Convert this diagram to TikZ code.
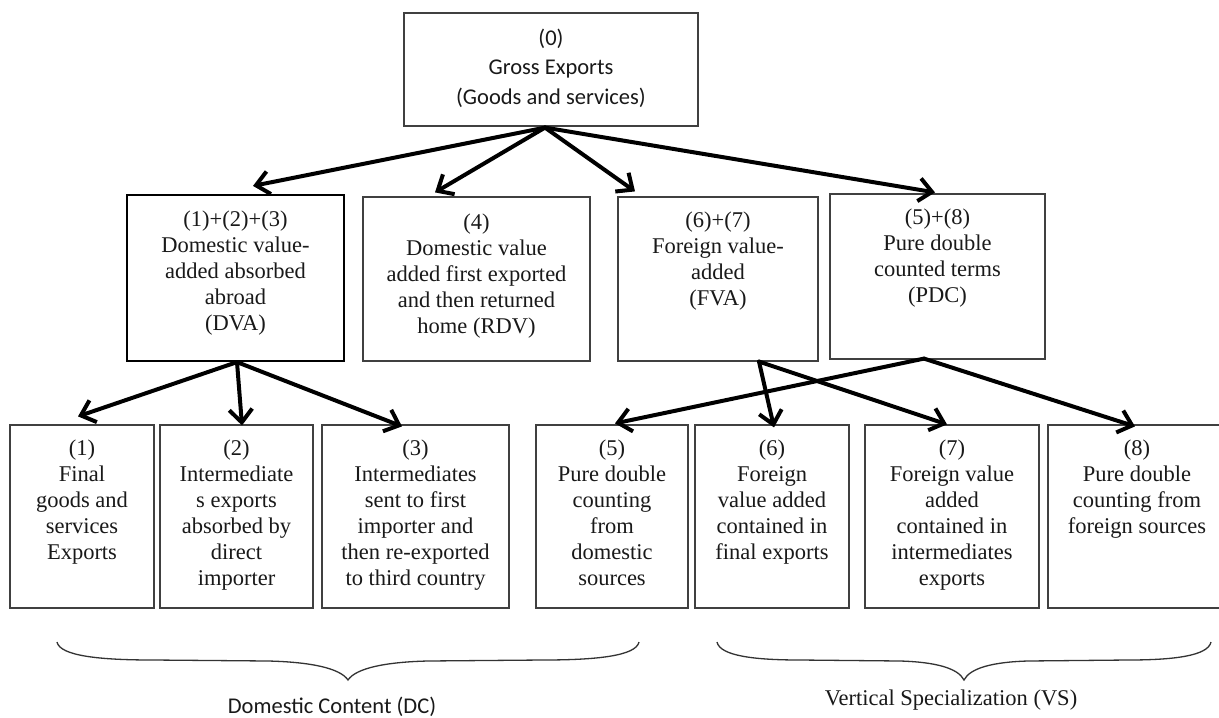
\documentclass[tikz,border=0pt]{standalone}
\usepackage{fontspec}
\setmainfont{Liberation Serif}
\newfontfamily\calib{Carlito}
\usetikzlibrary{arrows.meta,calc}
\begin{document}
\begin{tikzpicture}[x=1pt,y=-1pt,
  box/.style={draw=black!75, line width=1.2pt, inner sep=0pt, rectangle},
  boldbox/.style={box, draw=black, line width=2.2pt},
  txt/.style={align=center, inner sep=0pt, anchor=north, text=black!90,
    font=\fontsize{22.5}{26}\selectfont},
  stxt/.style={align=center, inner sep=0pt, anchor=north, text=black!90,
    font=\calib\fontsize{22.5}{29.5}\selectfont},
  arr/.style={line width=4pt, line cap=round, -{Straight Barb[length=13pt,width=23pt]}},
  bracepath/.style={draw=black!80, line width=1.3pt},
]
\path[fill=white] (0,0) rectangle (1219,718);
\useasboundingbox (0,0) rectangle (1219,718);

% top
\node[box, minimum width=294pt, minimum height=113pt] (top) at (551,69.5) {};
\node[stxt] (toptext) at ($(top.north)+(0,16)$) {(0)\\Gross Exports\\(Goods and services)};

% middle row
\node[boldbox, minimum width=217pt, minimum height=166pt] (dva) at (235.5,278) {};
\node[box, minimum width=227pt, minimum height=164pt] (rdv) at (476.5,279) {};
\node[box, minimum width=200pt, minimum height=164pt] (fva) at (718,279) {};
\node[box, minimum width=215pt, minimum height=165pt] (pdc) at (937.5,276.5) {};

\node[txt] (dvatext) at ($(dva.north)+(0,17)$) {(1)+(2)+(3)\\Domestic value-\\added absorbed\\abroad\\(DVA)};
\node[txt] (rdvtext) at ($(rdv.north)+(0,17)$) {(4)\\Domestic value\\added first exported\\and then returned\\home (RDV)};
\node[txt] (fvatext) at ($(fva.north)+(0,15)$) {(6)+(7)\\Foreign value-\\added\\(FVA)};
\node[txt] (pdctext) at ($(pdc.north)+(0,15)$) {(5)+(8)\\Pure double\\counted terms\\(PDC)};

% bottom row
\node[box, minimum width=144pt, minimum height=183pt] (b1) at (82,516.5) {};
\node[box, minimum width=153pt, minimum height=183pt] (b2) at (236.5,516.5) {};
\node[box, minimum width=187pt, minimum height=183pt] (b3) at (415.5,516.5) {};
\node[box, minimum width=152pt, minimum height=183pt] (b5) at (612,516.5) {};
\node[box, minimum width=154pt, minimum height=183pt] (b6) at (772,516.5) {};
\node[box, minimum width=174pt, minimum height=183pt] (b7) at (952,516.5) {};
\node[box, minimum width=178pt, minimum height=183pt] (b8) at (1137,516.5) {};

\node[txt] (b1text) at ($(b1.north)+(0,15.5)$) {(1)\\Final\\goods and\\services\\Exports};
\node[txt] (b2text) at ($(b2.north)+(0,15.5)$) {(2)\\Intermediate\\s exports\\absorbed by\\direct\\importer};
\node[txt] (b3text) at ($(b3.north)+(0,15.5)$) {(3)\\Intermediates\\sent to first\\importer and\\then re-exported\\to third country};
\node[txt] (b5text) at ($(b5.north)+(0,15.5)$) {(5)\\Pure double\\counting\\from\\domestic\\sources};
\node[txt] (b6text) at ($(b6.north)+(0,15.5)$) {(6)\\Foreign\\value added\\contained in\\final exports};
\node[txt] (b7text) at ($(b7.north)+(0,15.5)$) {(7)\\Foreign value\\added\\contained in\\intermediates\\exports};
\node[txt] (b8text) at ($(b8.north)+(0,15.5)$) {(8)\\Pure double\\counting from\\foreign sources};

% connector ends
\coordinate (o0) at ($(top.south)+(-6,1)$);
\coordinate (odva) at ($(dva.south)+(1.5,0)$);
\coordinate (ofva) at ($(fva.south)+(41,0)$);
\coordinate (opdc) at ($(pdc.south)+(-13.5,-1)$);

\coordinate (tdva) at ($(dva.north)+(17.5,-8)$);
\coordinate (trdv) at ($(rdv.north)+(-41.5,-4)$);
\coordinate (tfva) at ($(fva.north)+(-83,-5)$);
\coordinate (tpdc) at ($(pdc.north)+(-2.5,-1)$);
\coordinate (tb1) at ($(b1.north)+(-4,-8)$);
\coordinate (tb2) at ($(b2.north)+(5.5,1)$);
\coordinate (tb3) at ($(b3.north)+(-13.5,2)$);
\coordinate (tb5) at ($(b5.north)+(3,-1)$);
\coordinate (tb6) at ($(b6.north)+(2,3)$);
\coordinate (tb7) at ($(b7.north)+(-5,0)$);
\coordinate (tb8) at ($(b8.north)+(-2,2)$);

\draw[arr] (o0) -- (tdva);
\draw[arr] (o0) -- (trdv);
\draw[arr] (o0) -- (tfva);
\draw[arr] (o0) -- (tpdc);
\draw[arr] (odva) -- (tb1);
\draw[arr] (odva) -- (tb2);
\draw[arr] (odva) -- (tb3);
\draw[arr] (ofva) -- (tb6);
\draw[arr] (ofva) -- (tb7);
\draw[arr] (opdc) -- (tb5);
\draw[arr] (opdc) -- (tb8);

% braces
\draw[bracepath] (57,642) .. controls (60,656) and (100,660) .. (153,660) -- (268,661)
  .. controls (310,662) and (340,668) .. (348,680)
  .. controls (356,668) and (386,662) .. (428,661) -- (543,660)
  .. controls (596,660) and (636,656) .. (639,642);
\draw[bracepath] (717,642) .. controls (720,656) and (755,660) .. (800,660) -- (900,661)
  .. controls (935,662) and (958,668) .. (964,680)
  .. controls (970,668) and (993,662) .. (1028,661) -- (1128,660)
  .. controls (1173,660) and (1208,656) .. (1211,642);

\node[inner sep=0pt, text=black!90, font=\calib\fontsize{22.5}{26}\selectfont] (dc) at (332,707) {Domestic Content (DC)};
\node[inner sep=0pt, text=black!90, font=\fontsize{22.5}{26}\selectfont] (vs) at (951,700) {Vertical Specialization (VS)};
\end{tikzpicture}
\end{document}
